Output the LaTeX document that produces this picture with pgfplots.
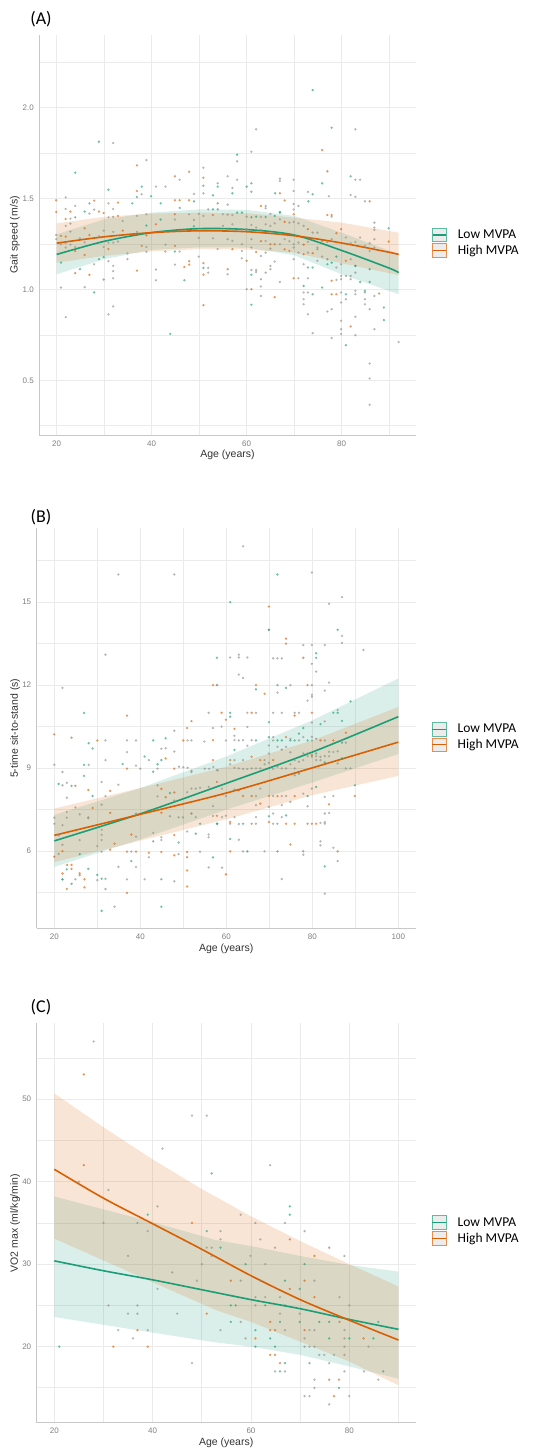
\documentclass[border=0pt]{standalone}
\usepackage{pgfplots}
\pgfplotsset{compat=1.18}
\usepackage{fontspec}
\setmainfont{Liberation Sans}
\newfontfamily\calfont{Carlito}
\definecolor{lowg}{HTML}{1B9E77}
\definecolor{highb}{HTML}{D95F02}
\definecolor{ptgray}{HTML}{8E8E86}
\definecolor{gridgray}{HTML}{EBEBEB}
\definecolor{axgray}{HTML}{C8C8C8}
\definecolor{tickgray}{HTML}{7F7F7F}
\definecolor{labgray}{HTML}{333333}

\pgfplotsset{
  panel/.style={
    scale only axis, axis lines*=left,
    axis line style={-, draw=axgray, line width=0.9pt},
    grid=both,
    major grid style={gridgray, line width=0.8pt},
    minor grid style={gridgray, line width=0.8pt},
    major tick length=0pt, minor tick length=0pt,
    tick label style={font=\fontsize{8}{9}\selectfont, text=tickgray},
    xticklabel style={yshift=-2pt}, yticklabel style={xshift=-2pt},
    label style={font=\fontsize{10.5}{12}\selectfont, text=labgray},
    /pgf/number format/assume math mode=true,
    xlabel={Age (years)},
    x label style={at={(axis description cs:0.5,-0.05)}, anchor=center},
    legend style={draw=none, fill=none, anchor=west, inner sep=0pt,
      font=\calfont\fontsize{13.5}{15}\selectfont, legend cell align=left,
      row sep=1pt, /tikz/every odd column/.style={column sep=9pt}},
  },
  pts/.style={only marks, mark=*, mark size=1pt, forget plot,
    color=#1, mark options={solid, draw=none, fill=#1}, opacity=0.5},
  gpts/.style={pts=ptgray},
  lpts/.style={pts=lowg},
  hpts/.style={pts=highb},
  lband/.style={fill=lowg, fill opacity=0.16, draw=none, forget plot},
  hband/.style={fill=highb, fill opacity=0.16, draw=none, forget plot},
  lfit/.style={lowg, line width=1.6pt, smooth, no marks, forget plot},
  hfit/.style={highb, line width=1.6pt, smooth, no marks, forget plot},
  lowkey/.style={legend image code/.code={
    \draw[draw=lowg!70, fill=gray!15, line width=0.9pt] (0pt,-6.8pt) rectangle (13.6pt,6.8pt);
    \draw[lowg, line width=1.3pt] (0pt,0pt) -- (13.6pt,0pt);}},
  highkey/.style={legend image code/.code={
    \draw[draw=highb!70, fill=gray!15, line width=0.9pt] (0pt,-6.8pt) rectangle (13.6pt,6.8pt);
    \draw[highb, line width=1.3pt] (0pt,0pt) -- (13.6pt,0pt);}},
}

\begin{document}
\begin{tikzpicture}
\path[use as bounding box] (0,0) rectangle (542pt,1449pt);

\node[font=\calfont\fontsize{18}{20}\selectfont] at (41pt,1430pt) {(A)};
\node[font=\calfont\fontsize{18}{20}\selectfont] at (41pt,932pt) {(B)};
\node[font=\calfont\fontsize{18}{20}\selectfont] at (41pt,442pt) {(C)};

% ---------------- (A) gait speed
\begin{axis}[panel, at={(39.3pt,1014pt)}, anchor=south west,
  width=376.4pt, height=400pt,
  xmin=16.34, xmax=95.6, ymin=0.20, ymax=2.40,
  xtick={20,40,60,80}, minor xtick={30,50,70,90},
  ytick={0.5,1.0,1.5,2.0}, minor ytick={0.25,0.75,1.25,1.75,2.25},
  yticklabel style={/pgf/number format/.cd, fixed, fixed zerofill, precision=1},
  ylabel={Gait speed (m/s)},
  y label style={at={(axis description cs:-0.0646,0.5)}, anchor=center},
  legend style={at={(1.0425,0.48)}}]
\addplot[gpts] coordinates {
(31.9,1.806) (38.9,1.712) (45.9,1.604) (50.9,1.670) (50.9,1.529) (53.9,1.584) (37.9,1.524)
(40.9,1.566) (42.9,1.566) (48.9,1.526) (21.9,1.507) (21.9,1.443) (23.9,1.460) (22.9,1.390)
(26.9,1.418) (27.9,1.440) (30.9,1.474) (31.9,1.443) (31.9,1.400) (30.9,1.397) (33.9,1.377)
(36.9,1.405) (38.9,1.414) (44.9,1.385) (47.9,1.414) (48.9,1.383) (49.9,1.416) (50.9,1.405)
(51.9,1.441) (19.9,1.300) (19.9,1.277) (21.9,1.350) (22.9,1.319) (22.9,1.363) (21.9,1.256)
(20.9,1.249) (21.9,1.231) (22.9,1.247) (23.9,1.234) (24.9,1.282) (25.9,1.260) (28.9,1.293)
(29.9,1.324) (29.9,1.234) (30.9,1.258) (31.9,1.258) (31.9,1.317) (32.9,1.264) (34.9,1.199)
(34.9,1.167) (36.9,1.317) (38.9,1.234) (38.9,1.207) (42.9,1.247) (42.9,1.209) (44.9,1.137)
(45.9,1.209) (49.9,1.181) (51.9,1.119) (51.9,1.093) (52.9,1.282) (53.9,1.223) (49.9,1.284)
(20.9,1.011) (21.9,0.848) (27.9,1.139) (25.9,1.013) (30.9,1.156) (31.9,1.130) (31.9,1.101)
(31.9,1.062) (31.9,0.907) (30.9,0.863) (40.9,1.110) (40.9,1.051)
(62.0,1.881) (82.9,1.881) (61.0,1.758) (58.0,1.705) (56.0,1.623) (58.0,1.604) (57.0,1.559)
(67.0,1.610) (67.0,1.597) (69.9,1.604) (69.9,1.542) (82.9,1.604) (83.9,1.604) (81.9,1.520)
(82.9,1.510) (77.3,1.513) (72.9,1.537) (84.9,1.485) (56.0,1.467) (64.0,1.460) (64.0,1.447)
(69.9,1.470) (70.9,1.460) (67.0,1.427) (69.9,1.440) (77.9,1.400) (55.0,1.414) (56.0,1.412)
(57.0,1.410) (60.0,1.401) (63.0,1.399) (65.0,1.416)
(55.0,1.350) (56.0,1.332) (57.0,1.359) (58.0,1.328) (59.0,1.332) (60.0,1.332) (61.0,1.355)
(62.0,1.341) (63.0,1.328) (64.0,1.359) (65.0,1.350) (65.9,1.364) (67.0,1.386) (69.0,1.368)
(69.9,1.372) (70.9,1.364) (72.0,1.350) (73.9,1.313) (74.9,1.313)
(56.0,1.277) (57.0,1.267) (59.0,1.249) (61.0,1.277) (64.0,1.267) (67.0,1.304) (68.0,1.277)
(69.0,1.266) (69.9,1.249) (70.9,1.258) (72.9,1.262) (73.9,1.277) (74.9,1.231) (77.0,1.262)
(77.9,1.277) (80.9,1.286) (81.9,1.255) (82.9,1.262) (83.9,1.286) (84.9,1.240) (85.9,1.255)
(86.9,1.368) (86.9,1.341) (86.9,1.328) (86.9,1.277)
(59.0,1.212) (61.0,1.231) (63.0,1.185) (64.0,1.203) (65.0,1.225) (67.0,1.249) (69.9,1.231)
(70.9,1.203) (72.9,1.203) (74.9,1.222) (75.9,1.181) (79.9,1.139) (81.9,1.167) (82.9,1.130)
(85.9,1.212) (86.9,1.231)
(56.0,1.084) (59.0,1.172) (61.0,1.108) (62.0,1.108) (62.0,1.097) (63.0,1.057) (64.0,1.093)
(65.0,1.130) (65.0,1.112) (65.9,1.154) (67.0,1.042) (69.9,1.167) (70.9,1.062) (72.0,1.139)
(72.9,1.062) (74.9,1.158) (78.9,1.121) (78.9,1.053) (79.9,1.075) (79.9,1.057) (80.9,1.075)
(81.9,1.075) (81.9,1.057) (82.9,1.093)
(60.0,1.002) (63.0,1.017) (63.0,0.965) (72.0,0.984) (72.0,0.947) (72.0,0.919) (72.9,0.984)
(79.9,0.984) (79.9,0.929) (80.9,0.947) (82.9,0.993) (82.9,0.974) (84.9,0.984) (84.9,0.947)
(84.9,0.919) (86.9,0.965) (72.9,0.864) (73.9,0.760) (77.0,0.879) (77.9,0.892) (77.9,0.733)
(79.9,0.828) (79.9,0.782) (79.9,0.755) (82.9,0.850) (82.9,0.749) (85.9,0.892) (86.9,0.782)
(85.9,0.593) (85.9,0.511) (85.9,0.366) (92.0,0.711)
};
\addplot[lpts] coordinates {
(28.9,1.813) (23.9,1.643) (50.9,1.571) (53.9,1.566) (37.9,1.566) (36.9,1.509) (39.9,1.513)
(41.9,1.474) (48.9,1.485) (52.9,1.518) (23.9,1.397) (25.9,1.429) (26.9,1.474) (30.9,1.549)
(35.9,1.474) (38.9,1.352) (41.9,1.385) (45.9,1.449) (48.9,1.348) (52.9,1.441) (53.9,1.441)
(44.9,1.209) (50.9,1.119) (20.9,1.148) (24.9,1.112) (27.9,0.984) (28.9,1.167) (29.9,1.179)
(46.9,1.051) (43.9,0.756)
(73.9,2.097) (77.9,1.890) (58.0,1.742) (61.0,1.584) (61.0,1.538) (60.0,1.566) (57.0,1.529)
(66.0,1.529) (75.9,1.584) (81.9,1.623) (73.9,1.524) (73.0,1.485) (58.0,1.423) (59.0,1.423)
(61.0,1.397) (62.0,1.401) (64.0,1.399) (65.9,1.405) (67.0,1.423) (89.9,1.337) (77.0,1.167)
(77.9,1.148) (78.9,1.181) (61.0,1.081) (72.9,1.121) (73.9,1.121) (77.0,1.139) (82.9,1.130)
(83.9,1.042) (85.9,1.112) (85.9,1.042) (61.0,0.916) (72.0,1.020) (73.9,0.974) (75.9,1.011)
(80.9,0.974) (84.9,0.993) (88.9,0.901) (88.9,0.832) (80.9,0.694)
};
\addplot[hpts] coordinates {
(36.9,1.683) (44.9,1.623) (47.9,1.648) (50.9,1.615) (36.9,1.542) (44.9,1.491) (45.9,1.491)
(47.9,1.491) (19.9,1.491) (19.9,1.427) (22.9,1.429) (21.9,1.388) (27.9,1.489) (28.9,1.429)
(29.9,1.421) (32.9,1.478) (32.9,1.405) (40.9,1.359) (44.9,1.414) (52.9,1.410) (53.9,1.474)
(20.9,1.295) (21.9,1.291) (23.9,1.212) (25.9,1.337) (25.9,1.190) (26.9,1.300) (30.9,1.223)
(33.9,1.324) (37.9,1.240) (38.9,1.298) (44.9,1.240) (46.9,1.124) (47.9,1.156) (47.9,1.137)
(50.9,1.145) (50.9,1.082) (23.9,1.090) (26.9,1.081) (29.9,1.055) (36.9,1.104) (50.9,0.914)
(75.9,1.767) (77.0,1.650) (67.0,1.529) (85.9,1.485) (63.0,1.460) (68.0,1.490) (69.9,1.414)
(77.0,1.410) (77.9,1.410) (68.0,1.372) (72.9,1.332) (63.0,1.266) (65.0,1.249) (65.9,1.249)
(72.0,1.247) (75.9,1.267) (78.9,1.310) (79.9,1.332) (89.9,1.264) (57.0,1.222) (62.0,1.207)
(68.0,1.222) (69.0,1.212) (72.0,1.194) (73.9,1.200) (80.9,1.158) (56.0,1.112) (60.0,1.158)
(69.9,1.062) (77.9,1.048) (61.0,1.002) (65.9,0.958) (77.9,0.974) (78.9,0.974) (87.9,0.978)
(81.9,0.797)
};
\addplot[lband] coordinates {
(20,1.304) (30,1.386) (40,1.423) (50,1.441) (60,1.438) (70,1.405) (80,1.313) (92,1.194)
(92,0.974) (80,1.084) (70,1.189) (60,1.231) (50,1.232) (40,1.218) (30,1.167) (20,1.084)};
\addplot[hband] coordinates {
(20,1.364) (30,1.400) (40,1.418) (50,1.423) (60,1.420) (70,1.396) (80,1.368) (92,1.313)
(92,1.079) (80,1.145) (70,1.203) (60,1.220) (50,1.222) (40,1.210) (30,1.185) (20,1.148)};
\addplot[lfit] coordinates {
(20,1.193) (30,1.265) (40,1.313) (50,1.335) (60,1.330) (70,1.300) (80,1.215) (90,1.118) (92,1.093)};
\addplot[hfit] coordinates {
(20,1.255) (30,1.290) (40,1.313) (50,1.323) (60,1.318) (70,1.296) (80,1.256) (90,1.205) (92,1.193)};
\addlegendimage{lowkey}
\addlegendentry{Low MVPA}
\addlegendimage{highkey}
\addlegendentry{High MVPA}
\end{axis}

% ---------------- (B) sit-to-stand
\begin{axis}[panel, at={(36.7pt,520.7pt)}, anchor=south west,
  width=379pt, height=400pt,
  xmin=15.9, xmax=104.05, ymin=3.21, ymax=17.67,
  xtick={20,40,60,80,100}, minor xtick={30,50,70,90},
  ytick={6,9,12,15}, minor ytick={4.5,7.5,10.5,13.5,16.5},
  ylabel={5-time sit-to-stand (s)},
  y label style={at={(axis description cs:-0.057,0.5)}, anchor=center},
  legend style={at={(1.042,0.478)}}]
\addplot[gpts] coordinates {
(34.9,16) (47.9,16) (31.9,13.1) (21.9,11.9) (57.9,12) (47.9,10.35) (55.9,11) (56.9,10.45)
(54.9,9.96) (31.9,10) (36.9,10) (39,10) (44.9,9.7) (45.9,9.72) (47.9,9.6) (51,10) (51.9,10)
(36.9,9.58) (31.9,9.29) (20,9.12) (28,9.12) (39,9.09) (42,9.29) (44,8.98) (40,8.98) (49,9.05)
(50,9.03) (51,9.01) (51.9,8.91) (51.9,8.86) (55,8.98) (56,8.98) (57,9.04) (58,8.92) (21.9,8.86)
(21.9,8.38) (22.9,8.47) (22.9,7.93) (31,8.5) (31.9,7.99) (34.9,8.4) (44,8.38) (44,7.98)
(47.9,7.83) (50.9,8.13) (51.9,8.26) (52.9,8.26) (53.9,8.29) (55.9,8.32) (56.9,7.63) (24.9,7.58)
(22.9,7.42) (25.9,7.33) (27.9,7.22) (27.9,7.19) (31,7.68) (39,7.36) (46.9,7.26) (48.9,7.22)
(49.9,7.22) (52.9,7.23) (56.9,7.27) (20,7.21) (20,6.99) (21.9,6.94) (22.9,7.21) (21,6.57)
(21.9,6.23) (21,5.9) (25.9,6.4) (31,6.77) (31,6.59) (30,6.18) (31,6.4) (31,5.98) (39,6.52)
(37.9,5.98) (39,5.43) (34.9,5.43) (42,5.78) (43,6.66) (44.9,6.4) (44.9,6.5) (48.9,5.89)
(50.9,6.71) (53.9,5.98) (55.9,6.6) (55.9,6.5) (55.9,5.41) (21.9,4.98) (24.9,4.98) (30,4.95)
(31.9,5) (31.9,4.63) (36.9,4.98) (41,4.98) (47.9,4.91) (34,3.99)
(63.9,17.02) (79.9,16.07) (86.9,15.18) (83.9,14.94) (69.9,14) (86.9,13.78) (86.9,13.53)
(77.9,13.45) (79.9,13.45) (82.9,13.45) (91.9,13.27) (60.9,13) (62.9,13.1) (62.9,13) (64.9,13)
(70.9,12.97) (71.9,12.97) (72.9,12.97) (79.9,12.77) (80.9,12.49) (62.9,12.38) (63.9,12.26)
(57.8,12) (71.9,11.73) (74.9,12) (79.9,12) (79.9,11.65) (79.9,11.58) (78.9,11.44) (82.9,11.8)
(83.9,12.09) (70.9,11) (72.9,11) (64.9,11) (66.9,11) (58.9,10.5) (75.9,11) (76.9,11)
(79.9,10.65) (82.9,10.69) (85.9,11.1)
(59.9,10) (61.9,10.01) (62.9,10) (63.9,10.01) (65.9,10.01) (70.9,10) (76.9,10) (79.9,10)
(82.9,10) (86.9,10) (61.9,10.17) (64.9,10.49) (64.9,9.81) (69.9,9.82) (70.9,10.12) (74.9,10.06)
(77.9,10.12) (79.9,10.13) (80.9,10.06)
(57.8,8.93) (60.9,9.14) (61.9,9.01) (62.9,8.99) (63.9,8.97) (64.9,8.97) (65.9,8.99) (66.9,8.99)
(67.9,8.99) (68.9,9.14) (69.9,9.19) (70.9,8.97) (71.9,9.05) (72.9,8.99) (73.9,8.99) (74.9,9.14)
(75.9,8.99) (76.9,9.23) (77.9,9.29) (78.9,9.43) (79.9,9.41) (80.9,9.43) (81.9,9.41) (82.9,9.43)
(83.9,9.59) (84.9,9.58) (85.9,9.61) (87.8,8.99) (88.9,8.99)
(61.9,9.29) (63.9,9.29) (68.9,9.29) (69.9,9.53) (71.9,9.77) (73.9,9.77) (74.9,9.57) (75.9,9.29)
(77.9,9.53) (78.9,9.53) (80.9,9.29) (81.9,9.29) (83.9,9.43) (85.9,9.17) (87.8,9.92)
(59,8.26) (59.9,7.99) (61.9,8.22) (66.9,7.99) (67.9,8.26) (70.9,7.99) (72.9,7.99) (73.9,7.99)
(77.9,8.08) (79.9,8.26) (82.9,7.96) (84.9,7.99) (75.9,8.74)
(59,7.23) (59.9,7.28) (60.9,6.99) (61.9,7.23) (62.9,6.98) (66.9,6.99) (66.9,7.23) (66.9,7.66)
(69.9,7.6) (70.9,6.99) (70.9,7.36) (71.9,6.99) (72.9,7.23) (72.9,7.66) (74.9,7.78) (78.9,7.62)
(81.9,7.02) (82.9,7.05) (82.9,6.99) (82.9,7.36) (83.9,7.38)
(62.9,6.41) (63.9,5.99) (68.9,5.99) (77.9,5.87) (81.9,6.35) (81.9,6.21) (84.9,6.12) (85.9,5.64)
(59,5.4) (72.9,4.99) (82.9,4.46)
};
\addplot[lpts] coordinates {
(57.8,12.99) (26.9,11) (43,10) (45.9,10.08) (28,9.9) (28.9,9.71) (26.9,9.12) (35.9,9.15)
(41,9.42) (44,9.14) (44.9,9.29) (43,8.87) (26.9,8.72) (21,8.43) (24,8.36) (28.9,7.99)
(46.9,8.1) (25.9,5.89) (37.9,5.64) (43,6.35) (48.9,6.31) (52.9,6.63) (53.9,6.99) (56.9,5.77)
(57.9,6.99) (21.9,4.98) (22.9,5.34) (24,4.82) (27.9,5.36) (30,5.14) (31,5) (44.9,4.98)
(31,3.84) (44.9,3.99)
(71.9,16) (60.9,15) (69.9,14) (85.9,14) (80.9,13.15) (80.9,12.99) (66.9,11.85) (71.9,12)
(73.9,11.9) (69.9,10.66) (60.9,11) (60.9,10.86) (77.9,10.45) (76.9,10.25) (81.9,10.59)
(85.9,11) (86.9,10.71) (88.9,11.41) (84.9,11) (66.9,10) (71.9,10) (72.9,10) (74.9,10)
(75.9,10) (78.9,10) (86.9,9.92) (61.9,9.66) (69.9,10.12) (80.9,9.53) (82.9,9.21) (86.9,9.35)
(89.9,8.38) (78.9,7.99) (80.9,8.32) (76.9,8.8) (57.8,6.99) (63.9,6.99) (69.9,7.26) (73.9,7.29)
(60.9,6.44) (64.9,5.99) (71.9,5.99) (77.9,5.99) (82.9,5.45)
};
\addplot[hpts] coordinates {
(56.9,12) (36.9,10.9) (20,10.22) (24,10.1) (51.9,10.7) (50.9,10.45) (56.9,10.01) (30,10)
(50,10) (45.9,9.35) (36.9,8.98) (47.9,8.98) (56.9,9.29) (24.9,8.36) (27.9,8.21) (33,8.18)
(44.9,8.25) (45.9,7.95) (47.9,8.12) (28.9,7.56) (33,7.38) (44.9,7.39) (51.9,7.36) (21.9,6)
(20,5.8) (33,6.05) (34,6.27) (37.9,6.6) (36.9,5.98) (39,5.98) (42,5.94) (44.9,5.97) (47.9,6.58)
(47.9,5.85) (50.9,5.97) (50.9,5.78) (50.9,5.3) (50.9,4.72) (23,5.5) (24,5.5) (24,5.36)
(21.9,5.19) (22.9,4.63) (25.9,5.2) (25.9,5.13) (27,4.98) (27,4.69) (36.9,4.49)
(69.9,14.84) (73.9,13.68) (73.9,13.5) (77.9,12.99) (66.9,12) (68.9,11.69) (78.9,12) (65.9,11)
(58.9,11) (59.9,10.75) (75.9,10.9) (79.9,11) (61.9,10.42) (73.9,10.12) (81.9,10) (84.9,10)
(87.8,10.28) (60.9,9.29) (65.9,9.41) (67.9,9.29) (70.9,9.29) (72.9,9.67) (79.9,9.47) (57.8,8.5)
(62.9,8.2) (63.9,7.99) (65.9,7.99) (69.9,7.99) (71.9,7.99) (75.9,7.99) (83.9,7.69) (89.9,7.99)
(57.8,7.28) (60.9,7.05) (65.9,6.99) (67.9,7.72) (69.9,7.05) (73.9,6.99) (75.9,6.99) (78.9,6.99)
(79.9,6.99) (80.9,6.99) (74.9,6.24) (60.9,5.99) (85.9,5.99) (59.9,5.16)
};
\addplot[lband] coordinates {
(20,7.31) (40,8.28) (60,9.42) (80,10.73) (100,12.24)
(100,9.51) (80,8.48) (60,7.50) (40,6.42) (20,5.43)};
\addplot[hband] coordinates {
(20,7.54) (40,8.28) (60,9.05) (80,10.0) (100,11.21)
(100,8.72) (80,8.02) (60,7.15) (40,6.38) (20,5.60)};
\addplot[lfit] coordinates {(20,6.37) (40,7.35) (60,8.45) (80,9.58) (100,10.86)};
\addplot[hfit] coordinates {(20,6.57) (40,7.33) (60,8.10) (80,9.01) (100,9.94)};
\addlegendimage{lowkey}
\addlegendentry{Low MVPA}
\addlegendimage{highkey}
\addlegendentry{High MVPA}
\end{axis}

% ---------------- (C) VO2 max
\begin{axis}[panel, at={(36.7pt,26.3pt)}, anchor=south west,
  width=379pt, height=399.4pt,
  xmin=16.42, xmax=93.5, ymin=10.78, ymax=59.2,
  xtick={20,40,60,80}, minor xtick={30,50,70,90},
  ytick={20,30,40,50}, minor ytick={15,25,35,45,55},
  ylabel={VO2 max (ml/kg/min)},
  y label style={at={(axis description cs:-0.057,0.5)}, anchor=center},
  legend style={at={(1.042,0.481)}}]
\addplot[gpts] coordinates {
(28,57) (48,48) (51,48) (42,44) (25,40) (31,39) (41,37) (30,35) (36.9,35) (39,34) (51,32)
(52,32) (52,31) (35,31) (50,30) (44,29) (49,28) (41,27) (31,25) (36.9,25) (35,24) (36.9,24)
(45,24) (33,22) (39,22) (36,21) (48,18)
(63.9,42) (53.8,34) (53.8,33) (57.9,36) (60.9,35) (61.9,33) (64.9,32) (66.9,35) (70.9,34)
(79,31) (59.9,31) (62.9,30) (57.9,28) (61.9,28) (72.9,28) (60.9,26) (62.9,26) (65.9,26)
(78,26) (60.9,25) (80,25) (65.9,24) (69.9,24) (57.9,23) (53.8,22) (66.9,22) (71.9,22)
(72.9,22) (79,22) (58.9,21) (70.9,21) (79,21) (70.9,20) (71.9,20) (72.9,20) (79,20) (83.9,20)
(73.9,19) (74.9,19) (76.9,19) (79,19) (75.9,18) (64.9,17) (66.9,17) (79,17) (83,17) (72.9,16)
(85.9,16) (72.9,15) (70.9,14) (71.9,14) (80,14) (75.9,13)
};
\addplot[lpts] coordinates {
(52,41) (39,36) (51,34) (21,20) (53.8,32) (67.9,37) (67.9,36) (58.9,30) (70.9,30) (66.9,28)
(69.9,27) (55.9,25) (56.9,25) (62.9,25) (66.9,25) (55.9,23) (65.9,23) (69.9,23) (73.9,23)
(75.9,23) (60.9,22) (63.9,21) (75.9,21) (80,21) (84.9,21) (60.9,20) (64.9,20) (66.9,18)
(71.9,18) (65.9,17) (86.9,17) (77.9,15) (85.9,23)
};
\addplot[hpts] coordinates {
(26,53) (26,42) (48,35) (51,24) (36.9,22) (32,20) (39,20) (67.9,33) (75.9,32) (72.9,31)
(55.9,28) (67.9,27) (70.9,28) (72.9,26) (63.9,23) (63.9,22) (64.9,22) (70.9,22) (78,23)
(60.9,21) (82.9,21) (63.9,19) (64.9,19) (65.9,18) (75.9,16) (77.9,16) (76.9,14)
};
\addplot[lband] coordinates {
(20,38.2) (40,35.1) (53,32.9) (60,32.2) (70,31.0) (80,29.9) (90,29.1)
(90,16.1) (80,17.6) (70,19.0) (60,20.0) (53,20.5) (40,21.7) (20,23.6)};
\addplot[hband] coordinates {
(20,50.7) (30,46.6) (40,42.7) (50,39.1) (60,35.8) (70,32.8) (80,30.0) (90,27.3)
(90,15.3) (80,18.2) (70,20.6) (60,23.0) (53,24.4) (40,27.8) (20,33.1)};
\addplot[lfit] coordinates {
(20,30.4) (30,29.2) (40,28.1) (50,26.9) (60,25.7) (70,24.6) (80,23.3) (90,22.1)};
\addplot[hfit] coordinates {
(20,41.5) (30,38.0) (40,34.9) (50,31.8) (60,28.6) (70,25.7) (80,23.2) (90,20.8)};
\addlegendimage{lowkey}
\addlegendentry{Low MVPA}
\addlegendimage{highkey}
\addlegendentry{High MVPA}
\end{axis}
\end{tikzpicture}
\end{document}
